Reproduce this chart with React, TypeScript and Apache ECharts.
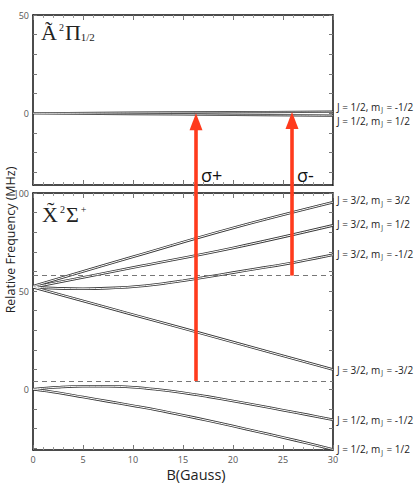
import React, { useEffect, useRef } from "react";
import * as echarts from "echarts";

// ---------- data ----------
const bGrid = [0, 2.5, 5, 7.5, 10, 12.5, 15, 17.5, 20, 22.5, 25, 27.5, 30];
const bCoarse = [0, 10, 20, 30];

// Upper state A~ 2Π1/2 (values at bCoarse)
const upperMjMinusHalf = [0, 0.3, 0.55, 0.8];
const upperMjHalf = [0, -0.4, -0.8, -1.2];

// Lower state X~ 2Σ+ ; J = 3/2 (values at bCoarse)
const j32m32 = [52.5, 67.5, 82.2, 95.3];
const j32m12 = [52, 62, 72, 83.5];
const j32mm32 = [52, 38, 24, 10];
// curved levels (values at bGrid)
const j32mm12 = [52, 51.4, 51.2, 51.5, 52.2, 53.5, 55.3, 57.3, 59.4, 61.5, 63.6, 66.0, 68.5];
const j12mm12 = [0, 1.0, 1.5, 1.5, 1.0, -0.2, -1.8, -3.8, -6.0, -8.3, -10.7, -13.1, -15.6];
const j12m12 = [0, -1.8, -4.0, -6.2, -8.4, -10.7, -13.3, -16.0, -18.8, -21.7, -24.6, -27.6, -30.7];

// dashed reference levels in the lower panel
const dashedLevels = [57.9, 4.2];

// transition arrows: B position, start level (lower panel), end level (upper panel)
const arrowB = [16.3, 25.9];
const arrowFrom = [4.2, 57.9];
const arrowTo = [0, 0.7];
const arrowNames = ["σ+", "σ-"];
const arrowLabelLevel = -31.5;

// tick values
const topTicks = [-30, -20, -10, 0, 10, 20, 30, 40, 50];
const topLabels = [0, 50];
const botTicks = [-30, -20, -10, 0, 10, 20, 30, 40, 50, 60, 70, 80, 90, 100];
const botLabels = [0, 50, 100];

const SANS = "'Open Sans', 'Liberation Sans', sans-serif";
const SERIF = "'Liberation Serif', 'DejaVu Serif', serif";
const LINE = "#333333";
const RED = "#ff3b1d";

function xAx(gridIndex: number, position: string, showLabel: boolean) {
  return {
    type: "value",
    gridIndex,
    position,
    min: 0,
    max: 30,
    interval: 5,
    axisLine: { show: true, onZero: false, lineStyle: { color: "#111", width: 1.5 } },
    axisTick: { show: true, inside: true, length: 5, lineStyle: { color: "#777", width: 1 } },
    minorTick: { show: true, splitNumber: 5, length: 3, lineStyle: { color: "#999", width: 1 } },
    axisLabel: { show: showLabel, fontSize: 9, color: "#555", margin: 5, fontFamily: SANS },
    splitLine: { show: false },
    minorSplitLine: { show: false },
  };
}

function yAx(gridIndex: number, position: string, min: number, max: number, ticks: number[], labels: number[]) {
  return {
    type: "value",
    gridIndex,
    position,
    min,
    max,
    axisLine: { show: true, onZero: false, lineStyle: { color: "#111", width: 1.5 } },
    axisTick: { show: true, inside: true, length: 4, customValues: ticks, lineStyle: { color: "#777", width: 1 } },
    axisLabel: {
      show: labels.length > 0,
      customValues: labels,
      fontSize: 9,
      color: "#555",
      margin: 4,
      fontFamily: SANS,
    },
    splitLine: { show: false },
  };
}

function level(name: string, xs: number[], ys: number[], axis: number, j: string, m: string, offY: number, thin = false) {
  const data = xs.map((x, i) => [x, ys[i]]);
  const common = {
    type: "line",
    xAxisIndex: axis,
    yAxisIndex: axis,
    data,
    smooth: 0.4,
    symbol: "none",
    silent: true,
  };
  return [
    { ...common, name, z: 2, lineStyle: { color: LINE, width: thin ? 2.2 : 2.6 } },
    {
      ...common,
      name: name + "-inner",
      z: 3,
      lineStyle: { color: "#ffffff", width: thin ? 0.6 : 1.0 },
      endLabel: {
        show: true,
        distance: 4,
        offset: [0, offY],
        formatter: `{t|J = ${j}, m}{s|J}{t| = ${m}}`,
        rich: {
          t: { fontSize: 10, color: "#222", fontFamily: SANS, lineHeight: 12 },
          s: { fontSize: 6.5, color: "#222", fontFamily: SANS, lineHeight: 12, padding: [6, 1, 0, 1] },
        },
      },
    },
  ];
}

export default function App() {
  const ref = useRef<HTMLDivElement>(null);
  useEffect(() => {
    if (!ref.current) return;
    const chart = echarts.init(ref.current, undefined, { renderer: "svg" });
    const series: any[] = [
      ...level("u1", bCoarse, upperMjMinusHalf, 0, "1/2", "-1/2", -5, true),
      ...level("u2", bCoarse, upperMjHalf, 0, "1/2", "1/2", 5, true),
      ...level("a", bCoarse, j32m32, 2, "3/2", "3/2", -2),
      ...level("b", bCoarse, j32m12, 2, "3/2", "1/2", -1),
      ...level("c", bGrid, j32mm12, 2, "3/2", "-1/2", -1),
      ...level("d", bCoarse, j32mm32, 2, "3/2", "-3/2", 0),
      ...level("e", bGrid, j12mm12, 2, "1/2", "-1/2", 0),
      ...level("f", bGrid, j12m12, 2, "1/2", "1/2", 0),
      {
        type: "line",
        xAxisIndex: 2,
        yAxisIndex: 2,
        data: [],
        silent: true,
        markLine: {
          silent: true,
          symbol: "none",
          label: { show: false },
          lineStyle: { color: "#777", type: [5, 4], width: 1 },
          data: dashedLevels.map((v) => ({ yAxis: v })),
        },
      },
    ];
    chart.setOption({
      animation: false,
      backgroundColor: "#ffffff",
      grid: [
        { left: 33, right: 82, top: 15, height: 170 },
        { left: 33, right: 82, top: 193, height: 257 },
      ],
      xAxis: [xAx(0, "bottom", false), xAx(0, "top", false), xAx(1, "bottom", true), xAx(1, "top", false)],
      yAxis: [
        yAx(0, "left", -36.5, 50, topTicks, topLabels),
        yAx(0, "right", -36.5, 50, topTicks, []),
        yAx(1, "left", -31, 100, botTicks, botLabels),
        yAx(1, "right", -31, 100, botTicks, []),
      ],
      series,
    });

    const graphics: any[] = [];
    arrowB.forEach((b, i) => {
      const bottom = chart.convertToPixel({ xAxisIndex: 2, yAxisIndex: 2 }, [b, arrowFrom[i]]) as number[];
      const tip = chart.convertToPixel({ xAxisIndex: 0, yAxisIndex: 0 }, [b, arrowTo[i]]) as number[];
      const lab = chart.convertToPixel({ xAxisIndex: 0, yAxisIndex: 0 }, [b, arrowLabelLevel]) as number[];
      const x = bottom[0];
      const headH = 17;
      const headW = 13;
      graphics.push({
        type: "rect",
        z: 20,
        shape: { x: x - 1.8, y: tip[1] + headH - 1, width: 3.6, height: bottom[1] - tip[1] - headH + 1 },
        style: { fill: RED },
        silent: true,
      });
      graphics.push({
        type: "polygon",
        z: 20,
        shape: { points: [[x, tip[1]], [x - headW / 2, tip[1] + headH], [x + headW / 2, tip[1] + headH]] },
        style: { fill: RED },
        silent: true,
      });
      graphics.push({
        type: "text",
        z: 20,
        x: x + 5,
        y: lab[1],
        style: { text: arrowNames[i], font: `18px ${SANS}`, fill: "#111", verticalAlign: "middle", align: "left" },
        silent: true,
      });
    });
    // panel titles
    graphics.push({
      type: "text",
      z: 20,
      x: 41,
      y: 32,
      style: {
        text: "{a|Ã}{p|2}{a|Π}{b|1/2}",
        verticalAlign: "middle",
        rich: {
          a: { fontSize: 22, fontFamily: SERIF, fill: "#222", color: "#222", lineHeight: 26 },
          p: { fontSize: 10, fontFamily: SERIF, fill: "#222", color: "#222", padding: [0, 1, 10, 2] },
          b: { fontSize: 11, fontFamily: SERIF, fill: "#222", color: "#222", padding: [10, 0, 0, 0] },
        },
      },
      silent: true,
    });
    graphics.push({
      type: "text",
      z: 20,
      x: 42,
      y: 214,
      style: {
        text: "{a|X\u0303}{p|2}{a|Σ}{p|+}",
        verticalAlign: "middle",
        rich: {
          a: { fontSize: 22, fontFamily: SERIF, fill: "#222", color: "#222", lineHeight: 26 },
          p: { fontSize: 10, fontFamily: SERIF, fill: "#222", color: "#222", padding: [0, 1, 10, 2] },
        },
      },
      silent: true,
    });
    // axis names
    graphics.push({
      type: "text",
      z: 20,
      x: 10,
      y: 240,
      rotation: Math.PI / 2,
      style: {
        text: "Relative Frequency (MHz)",
        font: `12.5px ${SANS}`,
        fill: "#222",
        align: "center",
        verticalAlign: "middle",
      },
      silent: true,
    });
    graphics.push({
      type: "text",
      z: 20,
      x: 196,
      y: 474,
      style: { text: "B(Gauss)", font: `14.5px ${SANS}`, fill: "#222", align: "center", verticalAlign: "middle" },
      silent: true,
    });
    chart.setOption({ graphic: graphics });

    return () => chart.dispose();
  }, []);
  return (
    <div
      ref={ref}
      style={{ position: "absolute", left: 0, top: 0, width: 415, height: 483, background: "#fff" }}
    />
  );
}
